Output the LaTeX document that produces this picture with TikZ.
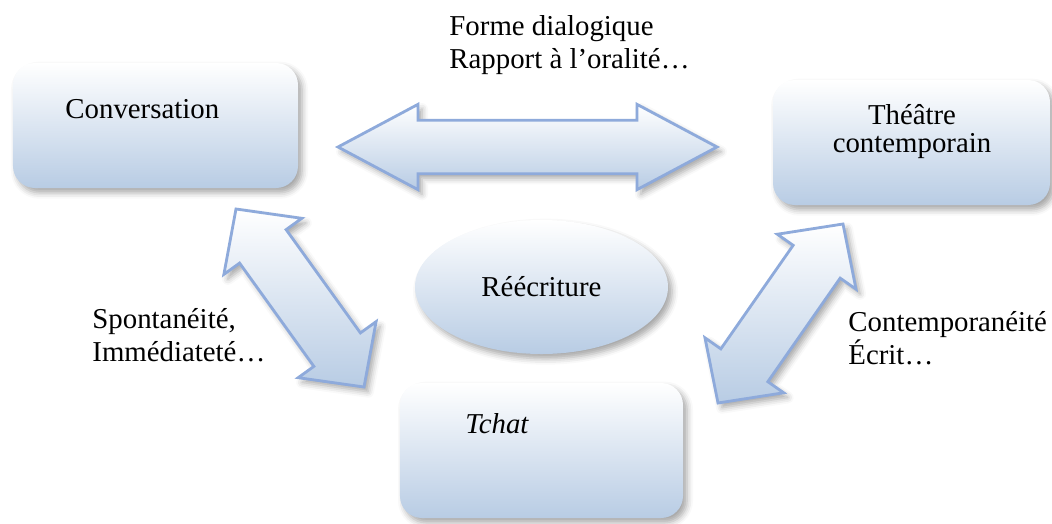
\documentclass[tikz,border=0pt]{standalone}
\usepackage{fontspec}
\setmainfont{Liberation Serif}
\usetikzlibrary{calc,shapes.geometric,shadows.blur}
\definecolor{boxblue}{HTML}{B8CCE4}
\definecolor{edgeblue}{HTML}{8EAADB}

\begin{document}
\begin{tikzpicture}[x=0.015cm,y=-0.015cm]
  \tikzset{
    every node/.style={font=\fontsize{12.3}{14}\selectfont},
    softshadow/.style={
      blur shadow={shadow xshift=0.6mm, shadow yshift=-0.7mm,
        shadow blur radius=0.9mm, shadow opacity=35}
    },
    panel/.style={
      softshadow,
      rounded corners=0.33cm,
      top color=white,
      bottom color=boxblue,
      inner sep=0pt
    },
    bigarrow/.style n args={3}{
      softshadow,
      draw=edgeblue,
      line width=1.2pt,
      top color=white,
      bottom color=boxblue,
      to path={(\tikztostart)
        -- ($($(\tikztostart)!#1!(\tikztotarget)$)!#2!90:(\tikztotarget)$)
        -- ($($(\tikztostart)!#1!(\tikztotarget)$)!#3!90:(\tikztotarget)$)
        -- ($($(\tikztotarget)!#1!(\tikztostart)$)!#3!-90:(\tikztostart)$)
        -- ($($(\tikztotarget)!#1!(\tikztostart)$)!#2!-90:(\tikztostart)$)
        -- (\tikztotarget)
        -- ($($(\tikztotarget)!#1!(\tikztostart)$)!#2!90:(\tikztostart)$)
        -- ($($(\tikztotarget)!#1!(\tikztostart)$)!#3!90:(\tikztostart)$)
        -- ($($(\tikztostart)!#1!(\tikztotarget)$)!#3!-90:(\tikztotarget)$)
        -- ($($(\tikztostart)!#1!(\tikztotarget)$)!#2!-90:(\tikztotarget)$)
        -- cycle}
    },
    note/.style={align=left, anchor=north west, inner sep=0pt}
  }
  \useasboundingbox (0,0) rectangle (1052,523);

  % boxes
  \node[panel, minimum width=4.275cm, minimum height=1.875cm] (conv) at (155.5,125.5) {};
  \node[panel, minimum width=4.155cm, minimum height=1.875cm] (theatre) at (911.5,142.5) {};
  \node[panel, minimum width=4.245cm, minimum height=2.025cm] (tchat) at (541.5,450.5) {};
  \node[panel, ellipse, minimum width=3.795cm, minimum height=2.01cm] (reecr) at (541.5,287) {R\'e\'ecriture};

  \node[anchor=base west, inner sep=0pt] (convtext) at (65,118) {Conversation};
  \node[anchor=north, align=center, inner sep=0pt,
        font=\fontsize{12.3}{11.9}\selectfont] (theatretext) at (912,104) {Th\'e\^atre\\contemporain};
  \node[anchor=base west, inner sep=0pt, font=\fontsize{12.3}{14}\selectfont\itshape] (tchattext) at (465,433) {Tchat};

  % arrows
  \coordinate (hleft) at (338,147);
  \coordinate (hright) at (717,147);
  \coordinate (ltop) at (236,209);
  \coordinate (lbot) at (364,387);
  \coordinate (rtop) at (843,224);
  \coordinate (rbot) at (718,403);

  \path[bigarrow={1.2cm}{0.64cm}{0.4cm}] (hleft) to (hright);
  \path[bigarrow={0.69cm}{0.72cm}{0.43cm}] (ltop) to (lbot);
  \path[bigarrow={0.69cm}{0.72cm}{0.43cm}] (rtop) to (rbot);

  % labels
  \node[note] (formes) at (449,15) {Forme dialogique\\Rapport \`a l’oralit\'e…};
  \node[note] (spont) at (92,308) {Spontan\'eit\'e,\\Imm\'ediatet\'e…};
  \node[note] (contemp) at (848,311) {Contemporan\'eit\'e\\\'Ecrit…};
\end{tikzpicture}
\end{document}
